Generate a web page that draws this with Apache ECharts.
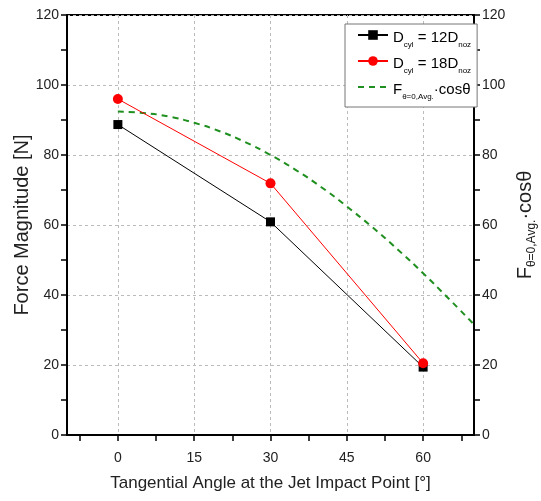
<!DOCTYPE html>
<html>
<head>
<meta charset="utf-8">
<script src="https://cdn.jsdelivr.net/npm/echarts@6/dist/echarts.min.js"></script>
<style>
  html, body { margin: 0; padding: 0; background: #fff; }
  #chart { width: 541px; height: 501px; }
</style>
</head>
<body>
<div id="chart"></div>
<script>
// angle ticks (deg)
const xMajorTicks = [0, 15, 30, 45, 60]
const xMinorTicks = [-7.5, 7.5, 22.5, 37.5, 52.5, 67.5]

// measured force magnitude [N]
const angles = [0, 30, 60]
const force12 = [88.7, 60.9, 19.4]
const force18 = [96.0, 71.9, 20.5]

// F(theta=0, avg) * cos(theta)
const cosAngles = [0, 5, 10, 15, 20, 25, 30, 35, 40, 45, 50, 55, 60, 65, 70]
const cosForce = [92.4, 92.0, 91.0, 89.2, 86.8, 83.7, 80.0, 75.7, 70.8, 65.3, 59.4, 53.0, 46.2, 39.0, 31.6]

const FONT = '"Liberation Sans", Arial, sans-serif'
const chart = echarts.init(document.getElementById('chart'))

const pairs = (xs, ys) => xs.map((x, i) => [x, ys[i]])

const yAxisBase = {
  type: 'value', min: 0, max: 120, interval: 20,
  axisLine: { show: true, onZero: false, lineStyle: { color: '#000', width: 2 } },
  axisTick: { show: true, inside: false, length: 6, lineStyle: { color: '#000', width: 1.5 } },
  minorTick: { show: true, splitNumber: 2, length: 6, lineStyle: { color: '#000', width: 1.5 } },
  axisLabel: { color: '#222', fontFamily: FONT, fontSize: 14, margin: 8 },
  nameLocation: 'middle',
  nameRotate: 90,
  nameMoveOverlap: false
}

chart.setOption({
  animation: false,
  backgroundColor: '#fff',
  grid: {
    left: 67, right: 67, top: 15, bottom: 66,
    containLabel: false, outerBoundsMode: 'none',
    show: true, borderColor: '#000', borderWidth: 2
  },
  legend: {
    orient: 'vertical',
    left: 345, top: 24,
    padding: [6, 6, 6, 12],
    itemWidth: 30, itemHeight: 12, itemGap: 7,
    backgroundColor: '#fff',
    borderColor: '#777', borderWidth: 1, borderRadius: 0,
    formatter: name => ({
      d12: '{m|D}{s|cyl}{m| = 12D}{s|noz}',
      d18: '{m|D}{s|cyl}{m| = 18D}{s|noz}',
      fcos: '{m|F}{s|θ=0,Avg.}{m|·cosθ}'
    })[name],
    textStyle: {
      fontFamily: FONT, color: '#000',
      rich: {
        m: { fontFamily: FONT, fontSize: 15, color: '#000', lineHeight: 20, verticalAlign: 'bottom' },
        s: { fontFamily: FONT, fontSize: 8, color: '#000', lineHeight: 14, verticalAlign: 'bottom', padding: [0, 0, -4, 0] }
      }
    },
    data: ['d12', 'd18', { name: 'fcos', itemStyle: { opacity: 0 } }]
  },
  xAxis: [
    {
      type: 'value', min: -10, max: 70,
      name: 'Tangential Angle at the Jet Impact Point [°]',
      nameLocation: 'middle', nameGap: 40, nameMoveOverlap: false,
      nameTextStyle: { fontFamily: FONT, fontSize: 17, color: '#222' },
      axisLine: { show: true, onZero: false, lineStyle: { color: '#000', width: 2 } },
      axisTick: { show: true, customValues: xMajorTicks, length: 6, lineStyle: { color: '#000', width: 1.5 } },
      axisLabel: { customValues: xMajorTicks, color: '#222', fontFamily: FONT, fontSize: 14, margin: 16 },
      splitLine: { show: true, lineStyle: { color: '#bbb', type: [3, 3], width: 1 } }
    },
    {
      type: 'value', min: -10, max: 70, position: 'bottom',
      axisLine: { show: false, onZero: false },
      axisTick: { show: true, customValues: xMinorTicks, length: 6, lineStyle: { color: '#000', width: 1.5 } },
      axisLabel: { show: false },
      splitLine: { show: false }
    }
  ],
  yAxis: [
    Object.assign({}, yAxisBase, {
      position: 'left',
      name: 'Force Magnitude [N]',
      nameGap: 35,
      nameTextStyle: { fontFamily: FONT, fontSize: 20, color: '#222' },
      splitLine: { show: true, lineStyle: { color: '#bbb', type: [3, 3], width: 1 } }
    }),
    Object.assign({}, yAxisBase, {
      position: 'right',
      name: '{m|F}{s|θ=0,Avg.}{m|·cosθ}',
      nameGap: 37,
      nameTextStyle: {
        fontFamily: FONT, color: '#222',
        rich: {
          m: { fontFamily: FONT, fontSize: 20, color: '#222', lineHeight: 24, verticalAlign: 'bottom' },
          s: { fontFamily: FONT, fontSize: 12, color: '#222', lineHeight: 16, verticalAlign: 'bottom', padding: [0, 0, -3, 0] }
        }
      },
      splitLine: { show: false }
    })
  ],
  series: [
    {
      name: 'd12', type: 'line', data: pairs(angles, force12),
      symbol: 'rect', symbolSize: 9,
      lineStyle: { color: '#000', width: 1 },
      itemStyle: { color: '#000' },
      z: 3
    },
    {
      name: 'd18', type: 'line', data: pairs(angles, force18),
      symbol: 'circle', symbolSize: 10,
      lineStyle: { color: '#ff0000', width: 1 },
      itemStyle: { color: '#ff0000' },
      z: 4
    },
    {
      name: 'fcos', type: 'line', yAxisIndex: 1, data: pairs(cosAngles, cosForce),
      symbol: 'none', smooth: true,
      lineStyle: { color: '#1f8f1f', width: 2, type: [6, 5] },
      itemStyle: { color: '#1f8f1f' },
      z: 2
    }
  ]
})
</script>
</body>
</html>
